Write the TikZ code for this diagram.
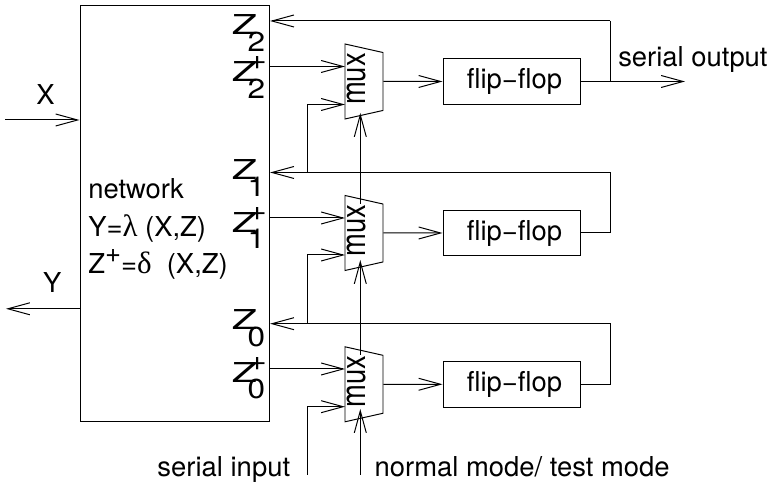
\documentclass[tikz,border=0pt]{standalone}
\usepackage{fontspec}
\usepackage{graphicx}
\setmainfont{TeX Gyre Heros}
\newfontfamily\greekfont{Liberation Serif}
\usetikzlibrary{arrows.meta,positioning,calc,shapes.geometric}
\newcommand{\zname}[2]{\scalebox{1.5}[1]{Z}\hspace{-.34em}\rlap{\raisebox{.46em}{\scalebox{1.2}[1]{#2}}}\raisebox{-.59em}{\scalebox{1.15}[1]{#1}}}
\newcommand{\greekname}[1]{{\fontsize{22}{26.7}\greekfont #1}}
\tikzset{
  every node/.style={font=\fontsize{19.5}{26.7}\selectfont, inner sep=0pt},
  muxBox/.style={draw, trapezium, trapezium stretches body=true, trapezium angle=60, rotate=90, shape border rotate=180, minimum width=1.875cm, minimum height=.95cm},
  ffBox/.style={draw, minimum width=3.425cm, minimum height=1.14cm},
  muxLabel/.style={rotate=90, anchor=base},
  wire/.style={line width=.7pt},
  wireArrow/.style={wire, -{Straight Barb[length=5.5mm, width=3mm]}},
  textLabel/.style={anchor=base west}
}
\begin{document}
\begin{tikzpicture}[x=1cm,y=1cm]
  \useasboundingbox (0,0) rectangle (19.3,12.05);
  \node[draw, wire, minimum width=4.74cm, minimum height=10.4cm] (net) at (4.37,6.7) {};
  \node[anchor=west, align=left] (nettext) at (2.2,6.32) {network\\Y=\greekname{λ} (X,Z)\\Z\raisebox{.4em}{+}=\greekname{δ}\ \ (X,Z)};
  % muxes and flip-flops
  \node[muxBox, wire] (muxtwo) at (9.1,10.0125) {\phantom{m}};
  \node[muxBox, wire] (muxone) at (9.1,6.225) {\phantom{m}};
  \node[muxBox, wire] (muxzero) at (9.1,2.4425) {\phantom{m}};
  \node[muxLabel] (labeltwo) at (9.125,10.075) {\scalebox{1}[1.25]{mux}};
  \node[muxLabel] (labelone) at (9.125,6.29) {\scalebox{1}[1.25]{mux}};
  \node[muxLabel] (labelzero) at (9.125,2.505) {\scalebox{1}[1.25]{mux}};
  \node[ffBox, wire] (fftwo) at (12.7875,10.0125) {\hspace*{.15cm}flip−flop};
  \node[ffBox, wire] (ffone) at (12.7875,6.225) {\hspace*{.15cm}flip−flop};
  \node[ffBox, wire] (ffzero) at (12.7875,2.4425) {\hspace*{.15cm}flip−flop};
  % labels on the network
  \node[textLabel] (ztwo) at (5.79,11.175) {\zname{2}{}};
  \node[textLabel] (ztwop) at (5.79,10.0) {\zname{2}{+}};
  \node[textLabel] (zone) at (5.79,7.55) {\zname{1}{}};
  \node[textLabel] (zonep) at (5.79,6.23) {\zname{1}{+}};
  \node[textLabel] (zzero) at (5.79,3.8) {\zname{0}{}};
  \node[textLabel] (zzerop) at (5.79,2.48) {\zname{0}{+}};
  \node[textLabel] (xlabel) at (.9,9.425) {X};
  \node[textLabel] (ylabel) at (1.07,4.725) {Y};
  \node[textLabel] (outlabel) at (15.45,10.38) {serial output};
  \node[textLabel] (inlabel) at (3.93,.13) {serial input};
  \node[textLabel] (modelabel) at (9.36,.13) {normal mode/ test mode};
  % free ends
  \coordinate (xin) at (.125,9.05);
  \coordinate (yout) at (.15,4.33);
  \coordinate (serialout) at (17.125,10.0125);
  \coordinate (serialin) at (7.675,.175);
  \coordinate (modein) at (9.0075,.175);
  \coordinate (turnout) at (15.25,10.0125);
  \coordinate (turntwo) at (15.25,11.525);
  \coordinate (turnone) at (15.25,7.7375);
  \coordinate (turnzero) at (15.25,3.9575);
  \coordinate (tapone) at (7.675,7.7375);
  \coordinate (tapzero) at (7.675,3.9575);
  \coordinate (intwoa) at (8.625,10.3875);
  \coordinate (intwob) at (8.625,9.4375);
  \coordinate (inonea) at (8.625,6.6);
  \coordinate (inoneb) at (8.625,5.675);
  \coordinate (inzeroa) at (8.625,2.825);
  \coordinate (inzerob) at (8.625,1.8825);
  \coordinate (tiptwo) at (9.0075,9.225);
  \coordinate (tipone) at (9.0075,5.55);
  \coordinate (tipzero) at (9.0075,1.825);
  \coordinate (topone) at (9.0075,6.95);
  \coordinate (topzero) at (9.0075,3.175);
  % connectors
  \draw[wireArrow] (xin) -- (net.west |- xin);
  \draw[wireArrow] (net.west |- yout) -- (yout);
  \draw[wireArrow] (net.east |- intwoa) -- (intwoa);
  \draw[wireArrow] (net.east |- inonea) -- (inonea);
  \draw[wireArrow] (net.east |- inzeroa) -- (inzeroa);
  \draw[wireArrow] (muxtwo.south) -- (fftwo.west);
  \draw[wireArrow] (muxone.south) -- (ffone.west);
  \draw[wireArrow] (muxzero.south) -- (ffzero.west);
  \draw[wireArrow] (fftwo.east) -- (serialout);
  \draw[wire] (turnout) -- (turntwo);
  \draw[wireArrow] (turntwo) -- (net.east |- turntwo);
  \draw[wireArrow] (ffone.east) -| (turnone) -- (net.east |- turnone);
  \draw[wireArrow] (ffzero.east) -| (turnzero) -- (net.east |- turnzero);
  \draw[wireArrow] (tapone) |- (intwob);
  \draw[wireArrow] (tapzero) |- (inoneb);
  \draw[wireArrow] (serialin) |- (inzerob);
  \draw[wireArrow] (modein) -- (tipzero);
  \draw[wireArrow] (topzero) -- (tipone);
  \draw[wireArrow] (topone) -- (tiptwo);
\end{tikzpicture}
\end{document}
